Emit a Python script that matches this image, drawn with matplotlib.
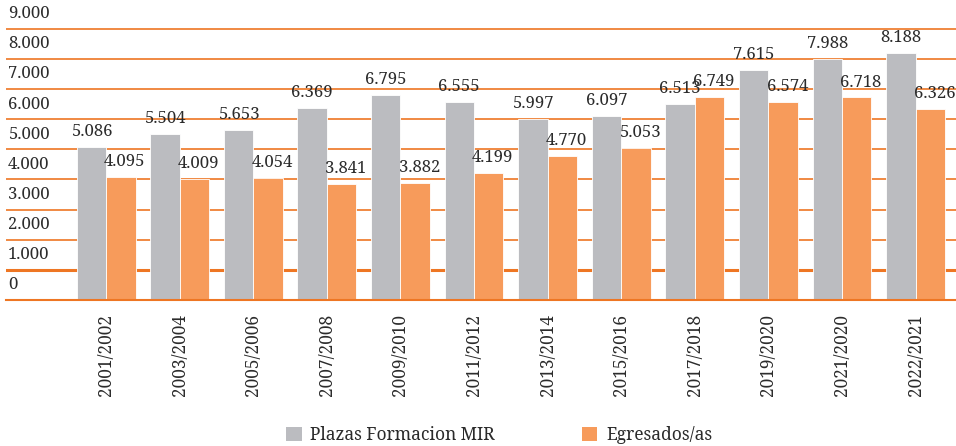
import matplotlib
matplotlib.use("Agg")
import matplotlib.pyplot as plt
import numpy as np
from matplotlib.transforms import blended_transform_factory
from matplotlib.font_manager import FontProperties

categories = ["2001/2002", "2003/2004", "2005/2006", "2007/2008", "2009/2010",
              "2011/2012", "2013/2014", "2015/2016", "2017/2018", "2019/2020",
              "2021/2020", "2022/2021"]
plazas = [5086, 5504, 5653, 6369, 6795, 6555, 5997, 6097, 6513, 7615, 7988, 8188]
egresados = [4095, 4009, 4054, 3841, 3882, 4199, 4770, 5053, 6749, 6574, 6718, 6326]
series_names = ["Plazas Formacion MIR", "Egresados/as"]
ytick_values = list(range(0, 10000, 1000))

GRAY = "#BBBCC0"
ORANGE = "#F79B5B"
LINE = "#EE7623"
TEXT = "#2B2B2B"
FAM = ['Noto Serif', 'DejaVu Serif']
plt.rcParams['font.family'] = FAM

def fmt(v):
    return f"{v:,}".replace(",", ".")

fig = plt.figure(figsize=(9.56, 4.46), dpi=100)
ax = fig.add_axes([6/956, 146/446, 950/956, 300/446])

x = np.arange(len(categories))
w = 0.4
b1 = ax.bar(x - w/2, plazas, w, color=GRAY, edgecolor="white", linewidth=0.6, zorder=3, label=series_names[0])
b2 = ax.bar(x + w/2, egresados, w, color=ORANGE, edgecolor="white", linewidth=0.6, zorder=3, label=series_names[1])

FS = 12
for xi, v in zip(x, plazas):
    ax.annotate(fmt(v), (xi - w/2, v), xytext=(0, 5), textcoords="offset points",
                ha="center", va="bottom", fontsize=FS, color=TEXT, zorder=4)
for xi, v in zip(x, egresados):
    ax.annotate(fmt(v), (xi + w/2, v), xytext=(3, 5), textcoords="offset points",
                ha="center", va="bottom", fontsize=FS, color=TEXT, zorder=4)

# gridlines
for v in ytick_values[1:]:
    ax.axhline(v, color=LINE, lw=2.2 if v == 1000 else 1.2, zorder=1)

ax.set_xlim(-1.36, 11.55)
ax.set_ylim(0, 9950)

# y labels placed between gridlines
trans = blended_transform_factory(ax.transAxes, ax.transData)
for v in ytick_values:
    ax.text(2/950, v + 500, fmt(v), transform=trans, ha="left", va="center",
            fontsize=FS, color=TEXT)

ax.set_yticks([])
ax.set_xticks(x)
ax.set_xticklabels(categories, rotation=90, fontsize=12.5, color=TEXT)
ax.tick_params(axis="x", length=0, pad=10)

for s in ["top", "right", "left"]:
    ax.spines[s].set_visible(False)
ax.spines["bottom"].set_color(LINE)
ax.spines["bottom"].set_linewidth(1.5)
ax.spines["bottom"].set_zorder(5)

leg = fig.legend(handles=[b1, b2], labels=series_names, loc="center",
                 bbox_to_anchor=(0.522, 11/446), ncol=2, frameon=False,
                 prop=FontProperties(family=FAM, size=12.5),
                 handlelength=0.9, handleheight=0.9,
                 columnspacing=5.0, handletextpad=0.5)
for t in leg.get_texts():
    t.set_color(TEXT)
for h in leg.legend_handles:
    h.set_edgecolor("none")

fig.savefig("out.png", dpi=100)
